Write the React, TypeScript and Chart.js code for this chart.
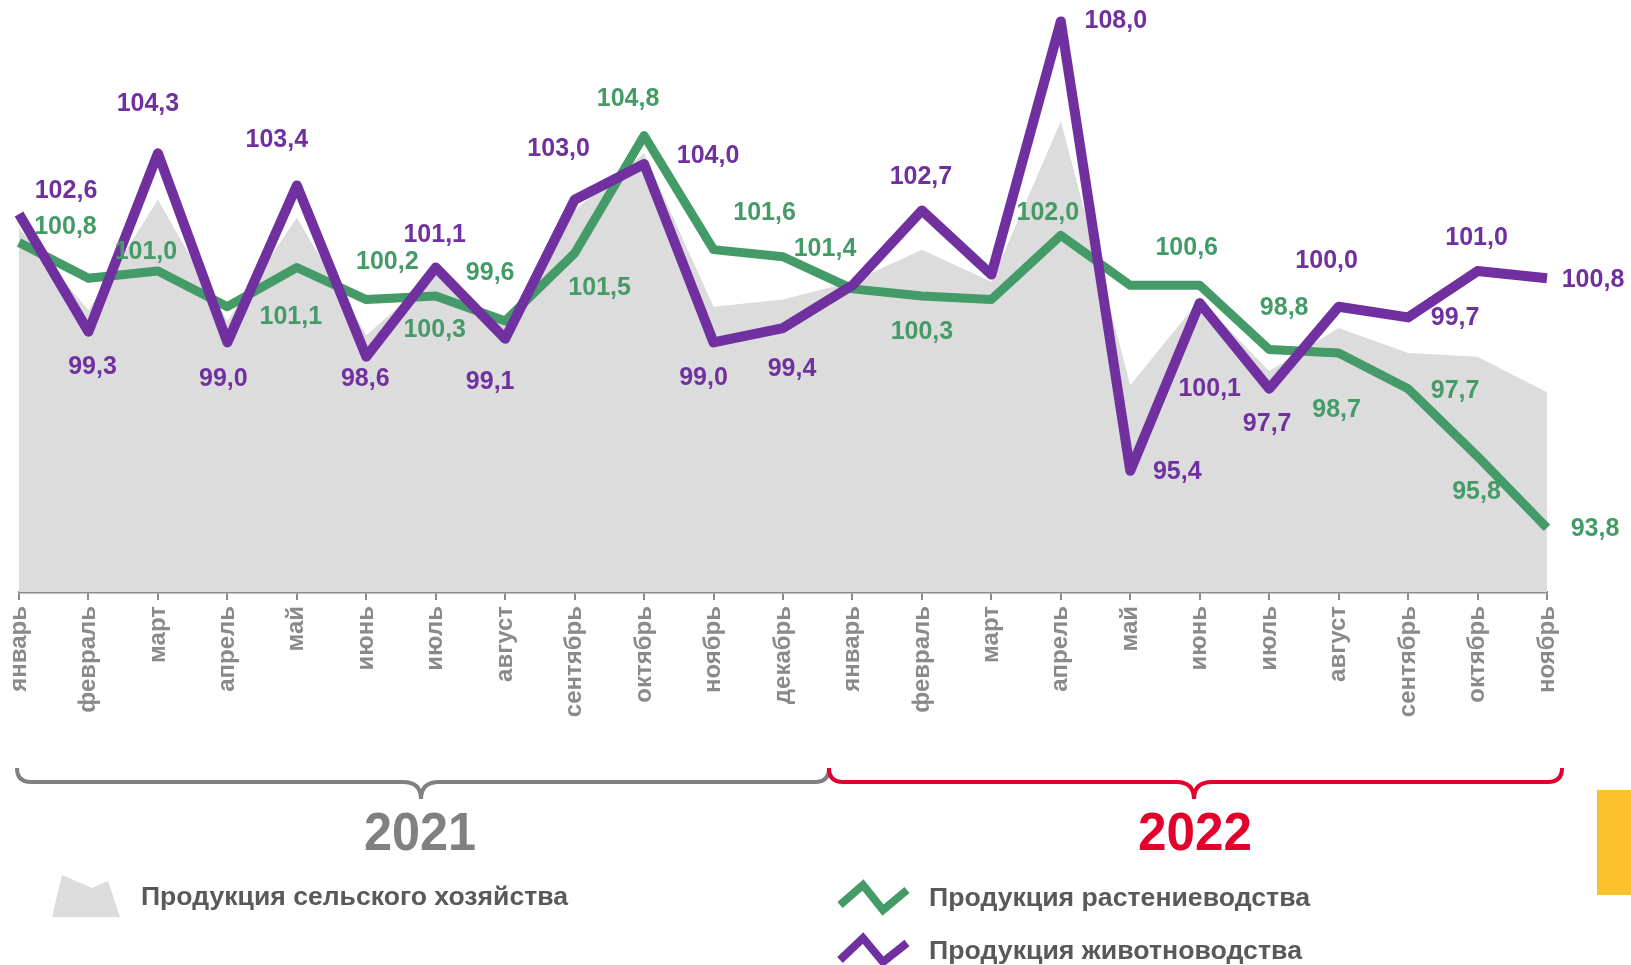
import React, { useEffect, useRef } from 'react';
import { Chart, registerables } from 'chart.js';

Chart.register(...registerables);

// ---- data ----
const months = [
  'январь', 'февраль', 'март', 'апрель', 'май', 'июнь', 'июль', 'август', 'сентябрь', 'октябрь', 'ноябрь', 'декабрь',
  'январь', 'февраль', 'март', 'апрель', 'май', 'июнь', 'июль', 'август', 'сентябрь', 'октябрь', 'ноябрь',
];

const agriculture = [102.2, 99.9, 103.0, 99.6, 102.5, 99.2, 100.9, 99.5, 102.7, 104.3, 100.0, 100.2, 100.7, 101.6, 100.7, 105.2, 97.8, 100.2, 98.2, 99.4, 98.7, 98.6, 97.6];
const crops = [101.8, 100.8, 101.0, 100.0, 101.1, 100.2, 100.3, 99.6, 101.5, 104.8, 101.6, 101.4, 100.5, 100.3, 100.2, 102.0, 100.6, 100.6, 98.8, 98.7, 97.7, 95.8, 93.8];
const livestock = [102.6, 99.3, 104.3, 99.0, 103.4, 98.6, 101.1, 99.1, 103.0, 104.0, 99.0, 99.4, 100.6, 102.7, 100.9, 108.0, 95.4, 100.1, 97.7, 100.0, 99.7, 101.0, 100.8];

const years = ['2021', '2022'];
const seriesNames = ['Продукция сельского хозяйства', 'Продукция растениеводства', 'Продукция животноводства'];

// ---- styles ----
const GREEN = '#449b68';
const PURPLE = '#7030a0';
const AREA = '#dcdcdc';
const AXIS = '#8a8a8a';
const RED = '#e3002d';
const FONT = '"Liberation Sans", Arial, sans-serif';

// label placement (offset of label centre from its point, px); null = no label
const cropsLabelOffsets: ([number, number] | null)[] = [
  null, [-23, -51], [-12, -19], null, [-6, 50], [21, -37], [-1, 34], [-15, -48], [25, 35], [-16, -36], [51, -37], [42, -8],
  null, [0, 36], null, [-13, -22], null, [-13, -37], [15, -41], [-2, 57], [47, 2], [-1, 36], [48, 1],
];
const livestockLabelOffsets: ([number, number] | null)[] = [
  [47, -23], [4, 35], [-10, -49], [-4, 37], [-20, -45], [-1, 22], [-1, -32], [-15, 43], [-16, -51], [64, -8], [-10, 36], [9, 41],
  null, [-1, -33], null, [55, 0], [47, 1], [10, 86], [-2, 35], [-12, -46], [47, 1], [-1, -33], [46, 2],
];

const fmt = (v: number) => v.toFixed(1).replace('.', ',');

const labelPlugin = {
  id: 'pointValueLabels',
  afterDatasetsDraw(chart: any) {
    const ctx = chart.ctx;
    ctx.save();
    ctx.font = `bold 25px ${FONT}`;
    ctx.textAlign = 'center';
    ctx.textBaseline = 'middle';
    const sets: [number, ([number, number] | null)[], string][] = [
      [1, cropsLabelOffsets, GREEN],
      [2, livestockLabelOffsets, PURPLE],
    ];
    sets.forEach(([di, offs, color]) => {
      const meta = chart.getDatasetMeta(di);
      const data = chart.data.datasets[di].data as number[];
      meta.data.forEach((pt: any, i: number) => {
        const o = offs[i];
        if (!o) return;
        ctx.fillStyle = color;
        ctx.fillText(fmt(data[i]), pt.x + o[0], pt.y + o[1]);
      });
    });
    ctx.restore();
  },
};

function ChartCanvas() {
  const ref = useRef<HTMLCanvasElement | null>(null);
  useEffect(() => {
    if (!ref.current) return;
    const chart = new Chart(ref.current, {
      type: 'line',
      data: {
        labels: months,
        datasets: [
          {
            label: seriesNames[0],
            data: agriculture,
            fill: 'start',
            backgroundColor: AREA,
            borderWidth: 0,
            borderColor: 'rgba(0,0,0,0)',
            pointRadius: 0,
            tension: 0,
            order: 2,
          },
          {
            label: seriesNames[1],
            data: crops,
            fill: false,
            borderColor: GREEN,
            borderWidth: 9,
            borderJoinStyle: 'round',
            pointRadius: 0,
            tension: 0,
            order: 1,
            clip: false,
          },
          {
            label: seriesNames[2],
            data: livestock,
            fill: false,
            borderColor: PURPLE,
            borderWidth: 10,
            borderJoinStyle: 'round',
            pointRadius: 0,
            tension: 0,
            order: 0,
            clip: false,
          },
        ],
      },
      options: {
        animation: false,
        responsive: false,
        maintainAspectRatio: false,
        layout: { padding: { left: 19, right: 84, top: 0, bottom: 0 } },
        plugins: { legend: { display: false }, tooltip: { enabled: false } },
        scales: {
          x: {
            grid: { drawOnChartArea: false, drawTicks: true, tickLength: 8, color: AXIS, lineWidth: 2 },
            border: { display: true, color: AXIS, width: 2.5 },
            ticks: {
              color: AXIS,
              font: { family: FONT, size: 24, weight: 'bold' },
              minRotation: 90,
              maxRotation: 90,
              padding: 6,
              autoSkip: false,
            },
            afterFit: (s: any) => {
              s.height = 138;
            },
          },
          y: { display: false, min: 92, max: 108.6 },
        },
      },
      plugins: [labelPlugin],
    } as any);
    return () => chart.destroy();
  }, []);
  return <canvas ref={ref} width={1631} height={730} style={{ position: 'absolute', left: 0, top: 0, width: 1631, height: 730 }} />;
}

export default function App() {
  return (
    <div style={{ position: 'absolute', left: 0, top: 0, width: 1631, height: 965, overflow: 'hidden', background: '#fff' }}>
      <ChartCanvas />
      <svg width={1631} height={965} style={{ position: 'absolute', left: 0, top: 0 }}>
        <path d="M17 768 Q17 782 31 782 L403 782 Q421 782 421 799 Q421 782 439 782 L815 782 Q829 782 829 768" stroke="#808080" strokeWidth={4} fill="none" />
        <path d="M829 768 Q829 782 843 782 L1176 782 Q1194 782 1194 799 Q1194 782 1212 782 L1548 782 Q1562 782 1562 768" stroke={RED} strokeWidth={4} fill="none" />
        <text x={420} y={850} textAnchor="middle" fontFamily={FONT} fontWeight="bold" fontSize={53} fill="#808080" textLength={112} lengthAdjust="spacingAndGlyphs">{years[0]}</text>
        <text x={1195} y={850} textAnchor="middle" fontFamily={FONT} fontWeight="bold" fontSize={53} fill={RED} textLength={114} lengthAdjust="spacingAndGlyphs">{years[1]}</text>

        <polygon points="62,875 92,888 108,881 120,917 52,917" fill={AREA} />
        <text x={141} y={905} fontFamily={FONT} fontWeight="bold" fontSize={26} fill="#595959" textLength={427} lengthAdjust="spacingAndGlyphs">{seriesNames[0]}</text>

        <polyline points="840,905 863,885 883,910 907,890" stroke={GREEN} strokeWidth={8} fill="none" />
        <text x={929} y={906} fontFamily={FONT} fontWeight="bold" fontSize={26} fill="#595959" textLength={381} lengthAdjust="spacingAndGlyphs">{seriesNames[1]}</text>

        <polyline points="840,960 863,938 883,962 907,943" stroke={PURPLE} strokeWidth={8} fill="none" />
        <text x={929} y={959} fontFamily={FONT} fontWeight="bold" fontSize={26} fill="#595959" textLength={373} lengthAdjust="spacingAndGlyphs">{seriesNames[2]}</text>

        <rect x={1597} y={790} width={34} height={105} fill="#fbc02d" />
      </svg>
    </div>
  );
}
